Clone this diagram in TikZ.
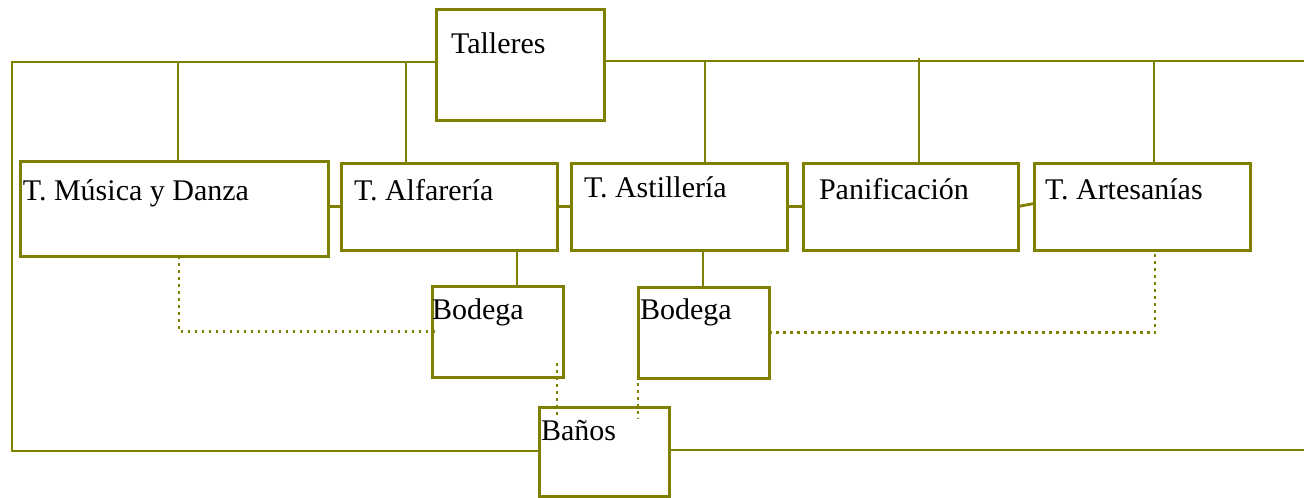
\documentclass[tikz,border=0pt]{standalone}
\usepackage{fontspec}
\setmainfont{Liberation Serif}
\usetikzlibrary{calc}
\definecolor{oliv}{rgb}{0.5,0.5,0}
\tikzset{
  box/.style={draw=oliv, line width=3pt, fill=white, inner sep=0pt, outer sep=0pt, anchor=north west},
  lbl/.style={inner sep=0pt, outer sep=0pt, anchor=base west, font=\fontsize{30}{36}\selectfont},
  link/.style={draw=oliv, line width=2.8pt},
  dotl/.style={draw=oliv, line width=2.5pt, dash pattern=on 2.5pt off 4.5pt}
}
\begin{document}
\begin{tikzpicture}[x=1pt,y=-1pt]
\useasboundingbox (0,0) rectangle (1304,498);
\coordinate (tl) at (12,62);
\coordinate (bl) at (12,451);
\coordinate (tr) at (1306,61);
\coordinate (br) at (1306,450);
\node[box, minimum width=168pt, minimum height=111pt] (tal) at (436,9) {};
\node[box, minimum width=308pt, minimum height=95pt] (mus) at (20,161) {};
\node[box, minimum width=216pt, minimum height=87pt] (alf) at (341,163) {};
\node[box, minimum width=216pt, minimum height=87pt] (ast) at (571,163) {};
\node[box, minimum width=215pt, minimum height=87pt] (pan) at (803,163) {};
\node[box, minimum width=216pt, minimum height=87pt] (art) at (1034,163) {};
\node[box, minimum width=131pt, minimum height=91pt] (bod1) at (432,286) {};
\node[box, minimum width=131pt, minimum height=91pt] (bod2) at (638,287) {};
\node[box, minimum width=130pt, minimum height=89pt] (ban) at (539,407) {};
% solid connectors
\draw[link] (tal.west |- tl) -- (tl) -- (bl) -- (ban.west |- bl);
\draw[link] (tal.east |- tr) -- (tr);
\draw[link] (ban.east |- br) -- (br);
\draw[link] ([xshift=4pt]mus.north) -- ([xshift=4pt]mus.north |- tl);
\draw[link] ([xshift=-43pt]alf.north) -- ([xshift=-43pt]alf.north |- tl);
\draw[link] ([xshift=26pt]ast.north) -- ([xshift=26pt]ast.north |- tr);
\draw[link] ([xshift=8.5pt]pan.north) -- ([shift={(8.5pt,3pt)}]pan.north |- tr);
\draw[link] ([xshift=12pt]art.north) -- ([xshift=12pt]art.north |- tr);
\draw[link] (mus.east |- alf.west) -- (alf.west);
\draw[link] (alf.east) -- (ast.west);
\draw[link] (ast.east) -- (pan.west);
\draw[link] (pan.east) -- ([yshift=3pt]art.west);
\draw[link] ([xshift=68pt]alf.south) -- ([xshift=68pt]alf.south |- bod1.north);
\draw[link] ([xshift=24pt]ast.south) -- ([xshift=24pt]ast.south |- bod2.north);
% dotted connectors
\draw[dotl] ([xshift=5pt]mus.south) |- ([xshift=5pt]bod1.west);
\draw[dotl] (bod2.east) -| ([xshift=13pt]art.south);
\draw[dotl] ([shift={(-6pt,14pt)}]bod1.south east) -- ([shift={(18pt,-12pt)}]ban.north west);
\draw[dotl] ([yshift=16pt]bod2.south west) -- ([shift={(-31pt,-12pt)}]ban.north east);
% labels
\node[lbl] (taltx) at ($(tal.north west)+(15,44)$) {Talleres};
\node[lbl] (mustx) at ($(mus.north west)+(3,39)$) {T. Música y Danza};
\node[lbl] (alftx) at ($(alf.north west)+(13,37)$) {T. Alfarería};
\node[lbl] (asttx) at ($(ast.north west)+(13,34)$) {T. Astillería};
\node[lbl] (pantx) at ($(pan.north west)+(16,36)$) {Panificación};
\node[lbl] (arttx) at ($(art.north west)+(11,36)$) {T. Artesanías};
\node[lbl] (bod1tx) at ($(bod1.north west)+(0,33)$) {Bodega};
\node[lbl] (bod2tx) at ($(bod2.north west)+(2,32)$) {Bodega};
\node[lbl] (bantx) at ($(ban.north west)+(2,33)$) {Baños};
\end{tikzpicture}
\end{document}
